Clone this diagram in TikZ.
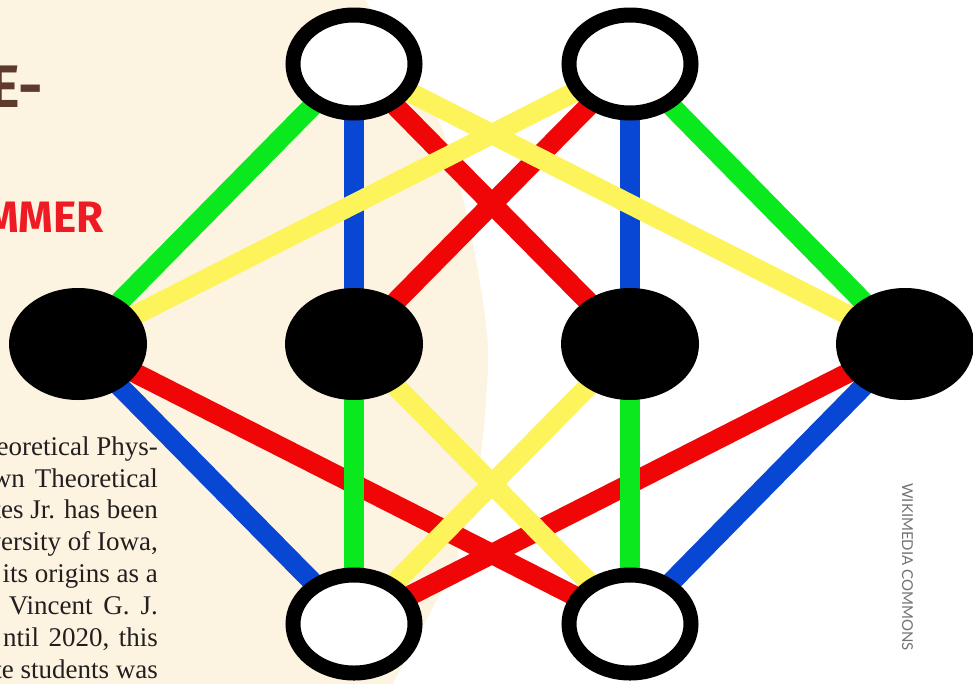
\documentclass[tikz,border=0pt]{standalone}
\usepackage{fontspec}
\setmainfont{Liberation Serif}
\newfontfamily\titlefont{Fira Sans}
\newfontfamily\credfont{Lato}
\usetikzlibrary{shapes.geometric}
\definecolor{cream}{RGB}{253,243,225}
\definecolor{ngreen}{RGB}{10,232,30}
\definecolor{nblue}{RGB}{8,70,212}
\definecolor{nred}{RGB}{240,6,6}
\definecolor{nyellow}{RGB}{253,243,90}
\definecolor{tbrown}{RGB}{94,58,44}
\definecolor{tred}{RGB}{237,28,36}
\definecolor{ink}{RGB}{35,31,32}
\pgfdeclarelayer{back}
\pgfdeclarelayer{links}
\pgfsetlayers{back,links,main}
\tikzset{
  wnode/.style={ellipse, draw=black, line width=15pt, fill=white, minimum width=122pt, minimum height=98pt, inner sep=0pt},
  bnode/.style={ellipse, fill=black, minimum width=138pt, minimum height=112pt, inner sep=0pt},
  link/.style={line width=20pt, line cap=butt},
  bodyline/.style={anchor=base east, inner sep=0pt, font=\fontsize{27}{31}\selectfont, text=ink},
}
\begin{document}
\begin{tikzpicture}[x=1pt,y=-1pt]
\useasboundingbox (0,0) rectangle (973,683);
\clip (0,0) rectangle (973,683);
% nodes
\node[wnode] (t1) at (354,64) {};
\node[wnode] (t2) at (630,64) {};
\node[bnode] (l) at (78,344) {};
\node[bnode] (m1) at (354,344) {};
\node[bnode] (m2) at (630,344) {};
\node[bnode] (r) at (905,344) {};
\node[wnode] (b1) at (354,624) {};
\node[wnode] (b2) at (630,624) {};
\begin{pgfonlayer}{back}
  \fill[white] (0,0) rectangle (973,683);
  \fill[cream] (-5,-5) -- (362,-5) -- plot[smooth] coordinates {(365,0) (438,120) (468,220) (487,333) (486,400) (477,480) (453,570) (437,600) (393,683)} -- (390,690) -- (-5,690) -- cycle;
  \node[anchor=base east, inner sep=0pt, text=tbrown, font=\titlefont\bfseries\fontsize{60}{60}\selectfont] (ttl) at (43,107) {E-};
  \node[anchor=base east, inner sep=0pt, text=tred, font=\titlefont\bfseries\fontsize{44}{44}\selectfont] (sub) at (104,232) {MMER};
  \node[bodyline] (p1) at (158,455) {eoretical Phys-};
  \node[bodyline] (p2) at (158,487) {wn\hspace{0.12em} Theoretical};
  \node[bodyline] (p3) at (158,518) {tes Jr. has been};
  \node[bodyline] (p4) at (158,550) {versity of Iowa,};
  \node[bodyline] (p5) at (158,582) {its origins as a};
  \node[bodyline] (p6) at (158,614) {Vincent\hspace{0.15em} G.\hspace{0.15em} J.};
  \node[bodyline] (p7) at (158,646) {ntil\hspace{0.1em} 2020,\hspace{0.1em} this};
  \node[bodyline] (p8) at (158,678) {te students was};
  \node[rotate=-90, inner sep=0pt, text=black!55, font=\credfont\fontsize{15}{15}\selectfont] (cred) at (907.5,567) {WIKIMEDIA COMMONS};
\end{pgfonlayer}
\begin{pgfonlayer}{links}
  % red
  \draw[link, nred] (t1.center) -- (m2.center);
  \draw[link, nred] (t2.center) -- (m1.center);
  \draw[link, nred] (b1.center) -- (r.center);
  \draw[link, nred] (b2.center) -- (l.center);
  % blue
  \draw[link, nblue] (t1.center) -- (m1.center);
  \draw[link, nblue] (t2.center) -- (m2.center);
  \draw[link, nblue] (b1.center) -- (l.center);
  \draw[link, nblue] (b2.center) -- (r.center);
  % green
  \draw[link, ngreen] (t1.center) -- (l.center);
  \draw[link, ngreen] (t2.center) -- (r.center);
  \draw[link, ngreen] (b1.center) -- (m1.center);
  \draw[link, ngreen] (b2.center) -- (m2.center);
  % yellow
  \draw[link, nyellow] (t1.center) -- (r.center);
  \draw[link, nyellow] (t2.center) -- (l.center);
  \draw[link, nyellow] (b1.center) -- (m2.center);
  \draw[link, nyellow] (b2.center) -- (m1.center);
\end{pgfonlayer}
\end{tikzpicture}
\end{document}
